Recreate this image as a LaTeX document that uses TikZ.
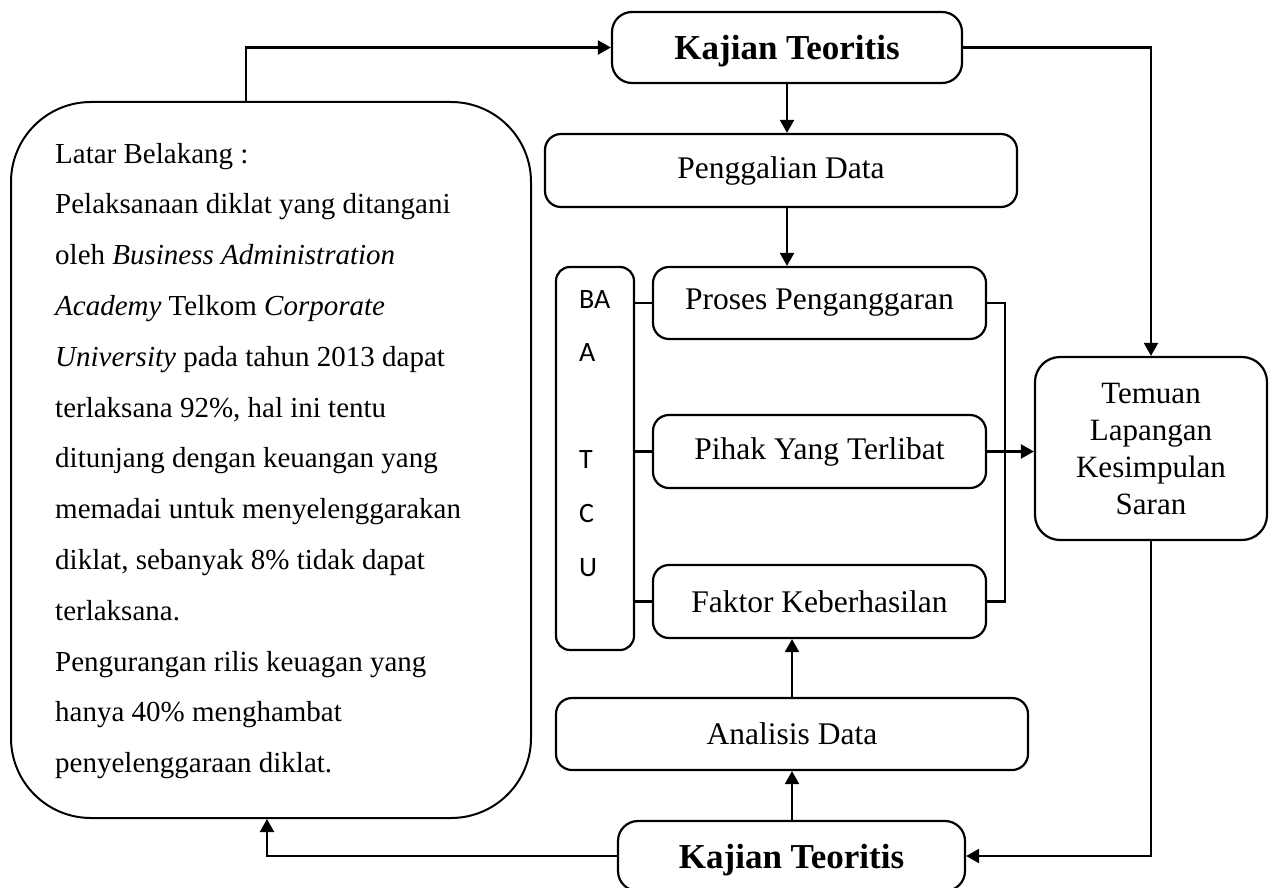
\documentclass[tikz,border=0pt]{standalone}
\usepackage{fontspec}
\setmainfont{Liberation Serif}
\newfontfamily\calfont{Carlito}
\usetikzlibrary{arrows.meta,calc}
\begin{document}
\begin{tikzpicture}[x=1pt,y=-1pt,
  box/.style={draw,line width=2.2pt,rounded corners=16pt,inner sep=0pt,align=center},
  arr/.style={line width=2.2pt,-{Triangle[length=13pt,width=14pt]}},
  ln/.style={line width=2.2pt},
  lbl/.style={font=\fontsize{31.5}{36}\selectfont},
  ttl/.style={font=\bfseries\fontsize{35}{40}\selectfont,text depth=0pt},
  ]
\useasboundingbox (0,0) rectangle (1274,888);
% boxes
\node[box,ttl,rounded corners=20pt,minimum width=350pt,minimum height=71pt] (kt) at (787,47.5) {Kajian Teoritis};
\node[box,lbl,minimum width=472pt,minimum height=73pt] (pd) at (781,170.5) {Penggalian Data};
\node[box,rounded corners=14pt,minimum width=78pt,minimum height=383pt] (batcu) at (595,458.5) {};
\node[anchor=base west,inner sep=0pt] (batcut) at (579,308) {\begin{minipage}[t]{60pt}\raggedright\calfont\fontsize{28}{53.6}\selectfont BA\\A\\\mbox{}\\T\\C\\U\end{minipage}};
\node[box,lbl,minimum width=333pt,minimum height=72pt] (pp) at (819.5,303) {Proses Penganggaran};
\node[box,lbl,minimum width=333pt,minimum height=73pt] (pt) at (819.5,451.5) {Pihak Yang Terlibat};
\node[box,lbl,minimum width=333pt,minimum height=73pt] (fk) at (819.5,601.5) {Faktor Keberhasilan};
\node[box,lbl,minimum width=472pt,minimum height=72pt] (ad) at (792,734) {Analisis Data};
\node[box,ttl,rounded corners=20pt,minimum width=347pt,minimum height=70pt] (kb) at (791.5,856) {Kajian Teoritis};
\node[box,rounded corners=25pt,minimum width=232pt,minimum height=183pt,font=\fontsize{31}{37}\selectfont] (tm) at (1151,448.5) {};
\node[anchor=base,inner sep=0pt,align=center,font=\fontsize{31}{37.3}\selectfont] (tmt) at (1151,403) {\begin{minipage}[t]{230pt}\centering Temuan\\Lapangan\\Kesimpulan\\Saran\end{minipage}};
\node[draw,line width=2pt,rounded corners=80pt,minimum width=520pt,minimum height=716pt,inner sep=0pt] (lb) at (271,460) {};
\node[anchor=base west,inner sep=0pt] (lbt) at (55,163) {\begin{minipage}[t]{470pt}\raggedright\fontsize{29}{50.8}\selectfont
Latar Belakang :\\
Pelaksanaan diklat yang ditangani\\
oleh \textit{Business Administration}\\
\textit{Academy} Telkom \textit{Corporate}\\
\textit{University} pada tahun 2013 dapat\\
terlaksana 92\%, hal ini tentu\\
ditunjang dengan keuangan yang\\
memadai untuk menyelenggarakan\\
diklat, sebanyak 8\% tidak dapat\\
terlaksana.\\
Pengurangan rilis keuagan yang\\
hanya 40\% menghambat\\
penyelenggaraan diklat.\end{minipage}};
% connectors
\coordinate (br) at (1005,451.5);
\draw[arr] ([xshift=-25pt]lb.north) |- (kt.west);
\draw[arr] (kt.east) -| (tm.north);
\draw[arr] (kt.south) -- (kt.south |- pd.north);
\draw[arr] (kt.south |- pd.south) -- (kt.south |- pp.north);
\draw[ln] (batcu.east |- pp.west) -- (pp.west);
\draw[ln] (batcu.east |- pt.west) -- (pt.west);
\draw[ln] (batcu.east |- fk.west) -- (fk.west);
\draw[ln] (pp.east) -| (br) |- (fk.east);
\draw[arr] (pt.east) -- (pt.east -| tm.west);
\draw[arr] (tm.south) |- (kb.east);
\draw[arr] (kb.west) -| ([xshift=-4pt]lb.south);
\draw[arr] (ad.south |- kb.north) -- (ad.south);
\draw[arr] (ad.north) -- (ad.north |- fk.south);
\end{tikzpicture}
\end{document}
